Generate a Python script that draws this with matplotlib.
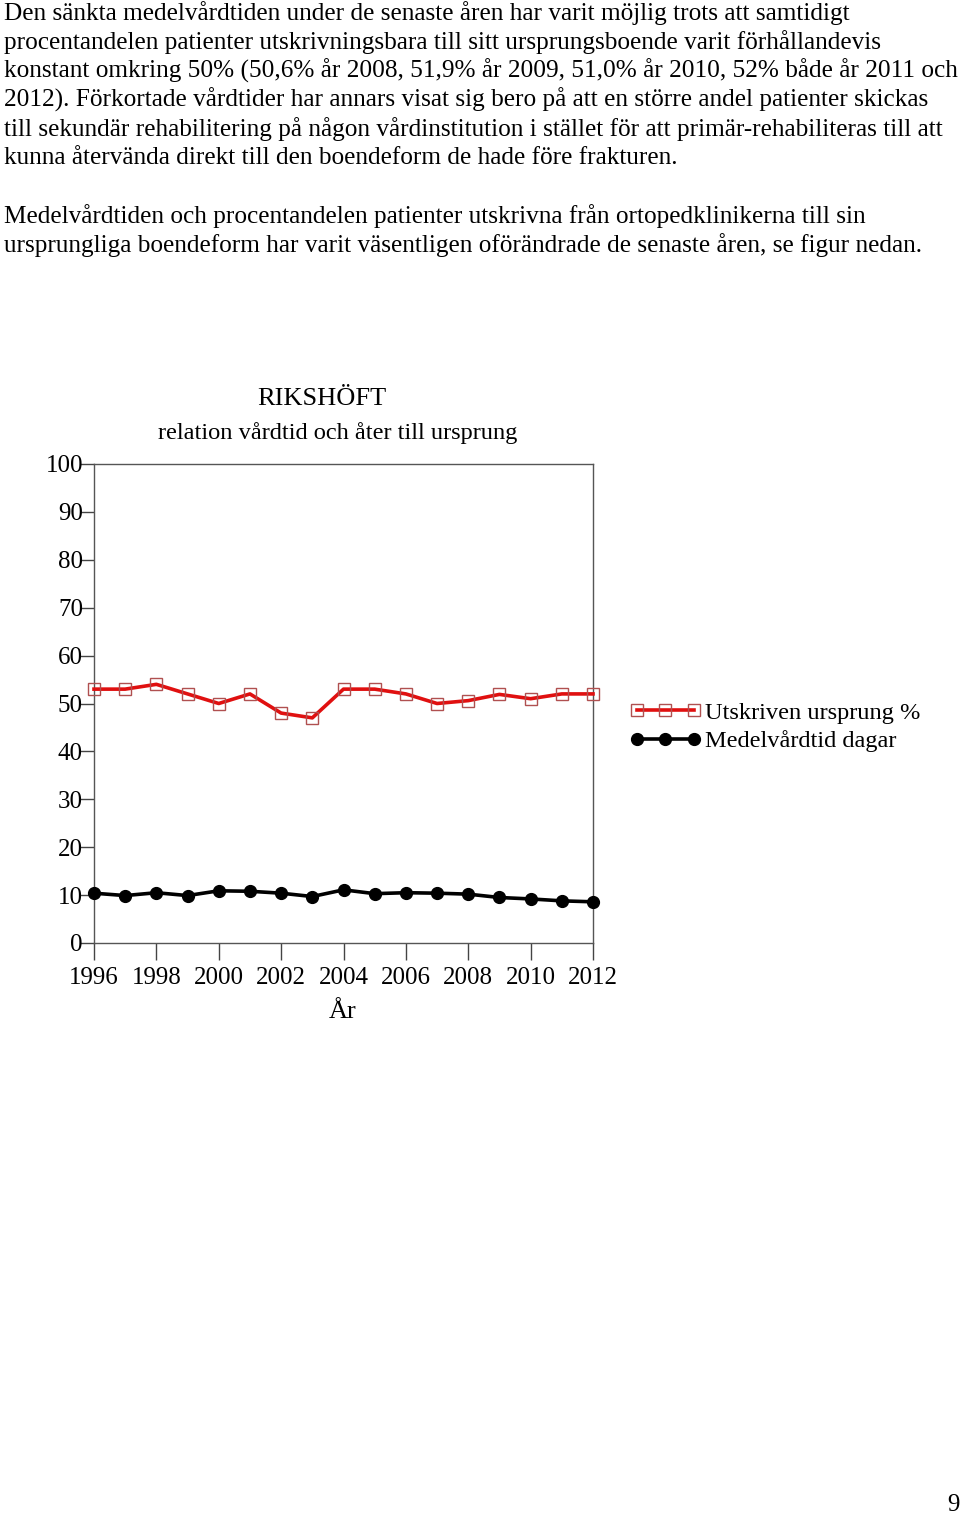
import matplotlib
matplotlib.use("Agg")
import matplotlib.pyplot as plt

years = list(range(1996, 2013))
utskriven = [53, 53, 54, 52, 50, 52, 48, 47, 53, 53, 52, 50, 50.6, 51.9, 51.0, 52, 52]
vardtid = [10.4, 9.9, 10.5, 9.9, 10.9, 10.8, 10.4, 9.7, 11.1, 10.3, 10.5, 10.4, 10.2, 9.5, 9.2, 8.8, 8.6]
yticks = [0, 10, 20, 30, 40, 50, 60, 70, 80, 90, 100]
xticks = list(range(1996, 2013, 2))

para1 = [
    "Den sänkta medelvårdtiden under de senaste åren har varit möjlig trots att samtidigt",
    "procentandelen patienter utskrivningsbara till sitt ursprungsboende varit förhållandevis",
    "konstant omkring 50% (50,6% år 2008, 51,9% år 2009, 51,0% år 2010, 52% både år 2011 och",
    "2012). Förkortade vårdtider har annars visat sig bero på att en större andel patienter skickas",
    "till sekundär rehabilitering på någon vårdinstitution i stället för att primär-rehabiliteras till att",
    "kunna återvända direkt till den boendeform de hade före frakturen.",
]
para2 = [
    "Medelvårdtiden och procentandelen patienter utskrivna från ortopedklinikerna till sin",
    "ursprungliga boendeform har varit väsentligen oförändrade de senaste åren, se figur nedan.",
]

W, H = 960, 1515
fig = plt.figure(figsize=(W / 100, H / 100), dpi=100)
plt.rcParams['font.family'] = ['Liberation Serif', 'DejaVu Serif']

def fy(py):
    return 1 - py / H

for i, line in enumerate(para1):
    fig.text(4 / W, fy(13 + 29 * i), line, fontsize=18.2, va='center', ha='left')
for i, line in enumerate(para2):
    fig.text(4 / W, fy(216 + 29 * i), line, fontsize=18.2, va='center', ha='left')

ax = fig.add_axes([94 / W, 1 - 943 / H, (593 - 94) / W, (943 - 464) / H])
ax.plot(years, utskriven, color='#e01010', lw=2.6, marker='s', ms=8.5,
        mfc='none', mec='#b05050', mew=1.0, label='Utskriven ursprung %', zorder=3, clip_on=False)
ax.plot(years, vardtid, color='black', lw=2.6, marker='o', ms=8.5,
        mfc='black', mec='black', label='Medelvårdtid dagar', zorder=3, clip_on=False)

ax.set_xlim(1996, 2012)
ax.set_ylim(0, 100)
ax.set_xticks(xticks)
ax.set_yticks(yticks)
ax.tick_params(axis='x', direction='out', length=12, width=1, color='#444444', labelsize=18, pad=5)
ax.tick_params(axis='y', direction='out', length=10, width=1, color='#444444', labelsize=18, pad=-2)
for s in ax.spines.values():
    s.set_color('#555555')
    s.set_linewidth(1.0)

fig.text(343 / W, fy(1012), "År", fontsize=19, ha='center', va='center')
fig.text(322 / W, fy(399), "RIKSHÖFT", fontsize=19, ha='center', va='center')
fig.text(338 / W, fy(433), "relation vårdtid och åter till ursprung", fontsize=17.6, ha='center', va='center')

leg = ax.legend(loc='center left', bbox_to_anchor=((630 - 94) / (593 - 94), (943 - 727) / (943 - 464)),
                frameon=False, fontsize=17.6, numpoints=3, handlelength=2.9, handletextpad=0.15,
                labelspacing=0.25, borderaxespad=0, borderpad=0)

fig.text(953 / W, fy(1505), "9", fontsize=18, ha='center', va='center')

fig.savefig("out.png", dpi=100)
